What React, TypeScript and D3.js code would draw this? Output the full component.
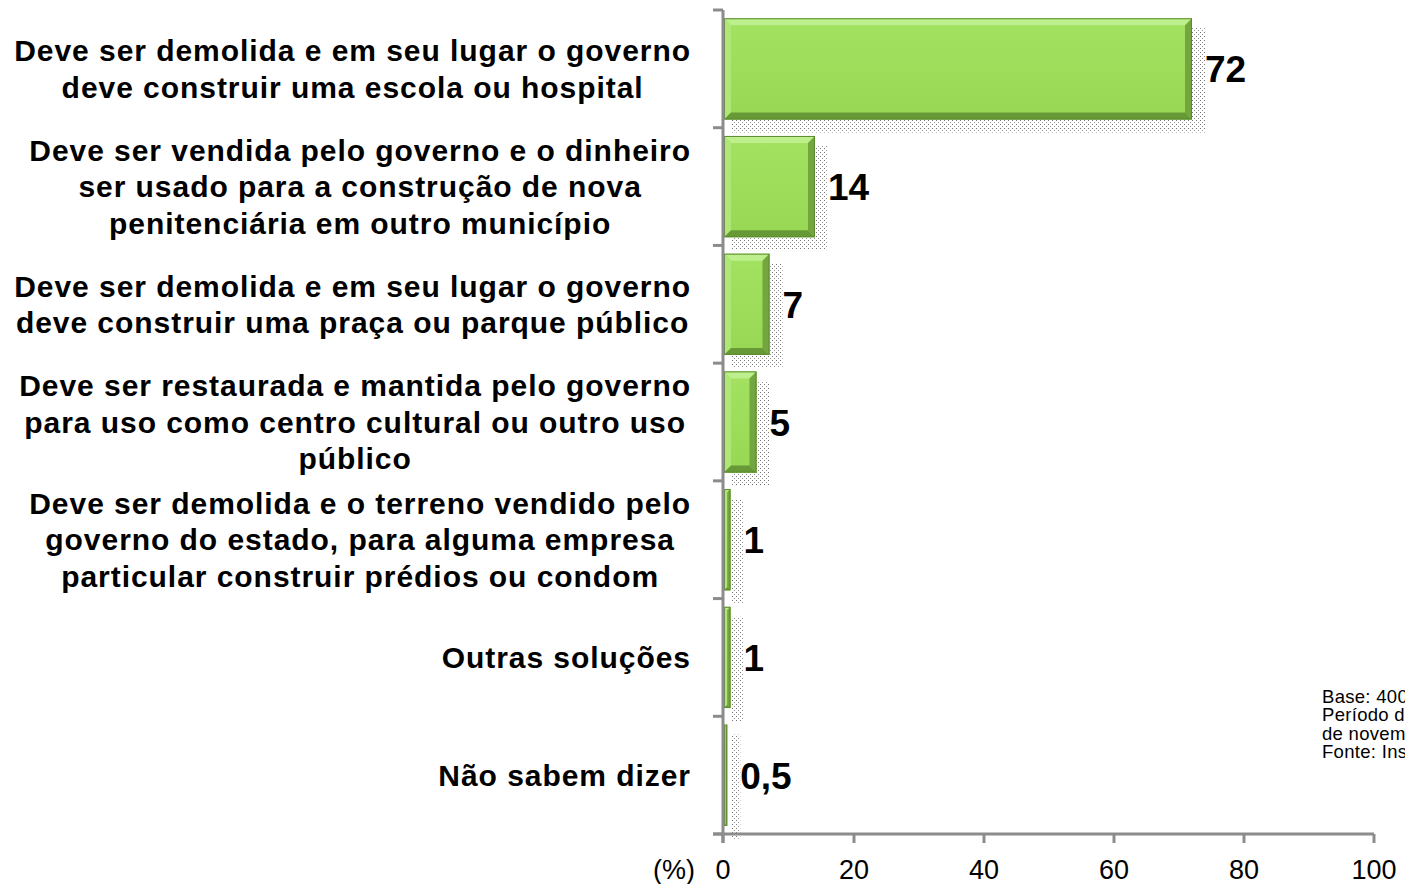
import React, { useEffect, useRef } from "react";
import * as d3 from "d3";

const categories: string[][] = [
  ["Deve ser demolida e em seu lugar o governo", "deve construir uma escola ou hospital"],
  ["Deve ser vendida pelo governo e o dinheiro", "ser usado para a construção de nova", "penitenciária em outro município"],
  ["Deve ser demolida e em seu lugar o governo", "deve construir uma praça ou parque público"],
  ["Deve ser restaurada e mantida pelo governo", "para uso como centro cultural ou outro uso", "público"],
  ["Deve ser demolida e o terreno vendido pelo", "governo do estado, para alguma empresa", "particular construir prédios ou condom"],
  ["Outras soluções"],
  ["Não sabem dizer"],
];
const values: number[] = [72, 14, 7, 5, 1, 1, 0.5];
const valueLabels: string[] = ["72", "14", "7", "5", "1", "1", "0,5"];
const xTicks: number[] = [0, 20, 40, 60, 80, 100];
const axisUnit = "(%)";
const noteLines: string[] = ["Base: 400", "Período de", "de novembro", "Fonte: Instituto"];

const W = 1405;
const H = 884;

export default function App() {
  const ref = useRef<SVGSVGElement | null>(null);

  useEffect(() => {
    const svg = d3.select(ref.current);
    svg.selectAll("*").remove();

    const x = d3.scaleLinear().domain([0, 100]).range([724, 1374]);
    const ids = categories.map((_, i) => String(i));
    const y = d3.scaleBand<string>().domain(ids).range([10, 834]).paddingInner(0.14).paddingOuter(0.07);
    const step = y.step();
    const font = "'Liberation Sans', Arial, sans-serif";

    const defs = svg.append("defs");
    const pat = defs.append("pattern").attr("id", "dots").attr("width", 4).attr("height", 4).attr("patternUnits", "userSpaceOnUse");
    pat.append("rect").attr("x", 0).attr("y", 0).attr("width", 1).attr("height", 1).attr("fill", "#666");
    pat.append("rect").attr("x", 2).attr("y", 2).attr("width", 1).attr("height", 1).attr("fill", "#888");

    const lg = defs.append("linearGradient").attr("id", "barFill").attr("x1", 0).attr("y1", 0).attr("x2", 0).attr("y2", 1);
    lg.append("stop").attr("offset", "0%").attr("stop-color", "#a3e262");
    lg.append("stop").attr("offset", "50%").attr("stop-color", "#9ddd5a");
    lg.append("stop").attr("offset", "100%").attr("stop-color", "#97d754");

    // Bars
    const g = svg.append("g");
    values.forEach((v, i) => {
      const x0 = x(0);
      const x1 = x(v);
      const w = x1 - x0;
      const y0 = y(String(i))!;
      const h = y.bandwidth();
      const y1 = y0 + h;
      // dotted shadow
      g.append("rect").attr("x", x0 + 8).attr("y", y0 + 10).attr("width", w + 5).attr("height", h + 3)
        .attr("fill", "url(#dots)").attr("opacity", 0.9);
      if (w <= 0) return;
      const b = Math.min(7, w / 2, h / 2);
      g.append("rect").attr("x", x0).attr("y", y0).attr("width", w).attr("height", h).attr("fill", "url(#barFill)");
      // bevels
      g.append("polygon").attr("points", `${x0},${y0} ${x1},${y0} ${x1 - b},${y0 + b} ${x0 + b},${y0 + b}`).attr("fill", "#bdf08c");
      g.append("polygon").attr("points", `${x0},${y0} ${x0 + b},${y0 + b} ${x0 + b},${y1 - b} ${x0},${y1}`).attr("fill", "#aee776");
      g.append("polygon").attr("points", `${x1},${y0} ${x1},${y1} ${x1 - b},${y1 - b} ${x1 - b},${y0 + b}`).attr("fill", "#73a63f");
      g.append("polygon").attr("points", `${x0},${y1} ${x0 + b},${y1 - b} ${x1 - b},${y1 - b} ${x1},${y1}`).attr("fill", "#679a36");
      g.append("rect").attr("x", x0 + 0.5).attr("y", y0 + 0.5).attr("width", Math.max(0, w - 1)).attr("height", h - 1)
        .attr("fill", "none").attr("stroke", "#5b8a2e").attr("stroke-width", 1);
    });

    // value labels
    values.forEach((v, i) => {
      svg.append("text")
        .attr("x", x(v) + 13)
        .attr("y", y(String(i))! + y.bandwidth() / 2 + 1)
        .attr("dominant-baseline", "central")
        .attr("font-family", font)
        .attr("font-weight", "bold")
        .attr("font-size", 37)
        .attr("fill", "#000")
        .text(valueLabels[i]);
    });

    // axes
    const axisColor = "#8c8c8c";
    svg.append("line").attr("x1", 723).attr("x2", 723).attr("y1", 10).attr("y2", 843).attr("stroke", axisColor).attr("stroke-width", 3);
    svg.append("line").attr("x1", 713).attr("x2", x(100)).attr("y1", 834).attr("y2", 834).attr("stroke", axisColor).attr("stroke-width", 3);
    for (let i = 0; i <= categories.length; i++) {
      const yy = 10 + i * step;
      svg.append("line").attr("x1", 713).attr("x2", 723).attr("y1", yy).attr("y2", yy).attr("stroke", axisColor).attr("stroke-width", 3);
    }
    xTicks.forEach((t) => {
      const xx = t === 0 ? 723 : x(t);
      svg.append("line").attr("x1", xx).attr("x2", xx).attr("y1", 834).attr("y2", 843).attr("stroke", axisColor).attr("stroke-width", 3);
      svg.append("text").attr("x", xx).attr("y", 879).attr("text-anchor", "middle")
        .attr("font-family", font).attr("font-size", 27).attr("fill", "#000").text(String(t));
    });
    svg.append("text").attr("x", 695).attr("y", 879).attr("text-anchor", "end")
      .attr("font-family", font).attr("font-size", 27).attr("fill", "#000").text(axisUnit);

    // category labels
    const lh = 36.5;
    categories.forEach((lines, i) => {
      const cy = y(String(i))! + y.bandwidth() / 2;
      const grp = svg.append("g");
      const texts = lines.map((ln, j) =>
        grp.append("text")
          .attr("y", cy + (j - (lines.length - 1) / 2) * lh)
          .attr("dominant-baseline", "central")
          .attr("text-anchor", "middle")
          .attr("font-family", font)
          .attr("font-weight", "bold")
          .attr("font-size", 30)
          .attr("letter-spacing", 0.95)
          .attr("fill", "#000")
          .text(ln)
      );
      const maxW = d3.max(texts, (t) => (t.node() as SVGTextElement).getComputedTextLength()) || 0;
      texts.forEach((t) => t.attr("x", 691 - maxW / 2));
    });

    // note
    noteLines.forEach((ln, i) => {
      svg.append("text").attr("x", 1322).attr("y", 703 + i * 18.4)
        .attr("font-family", font).attr("font-size", 18.5).attr("letter-spacing", 0.3).attr("fill", "#000").text(ln);
    });
  }, []);

  return (
    <svg ref={ref} width={W} height={H} style={{ position: "absolute", left: 0, top: 0, background: "#fff" }} />
  );
}
